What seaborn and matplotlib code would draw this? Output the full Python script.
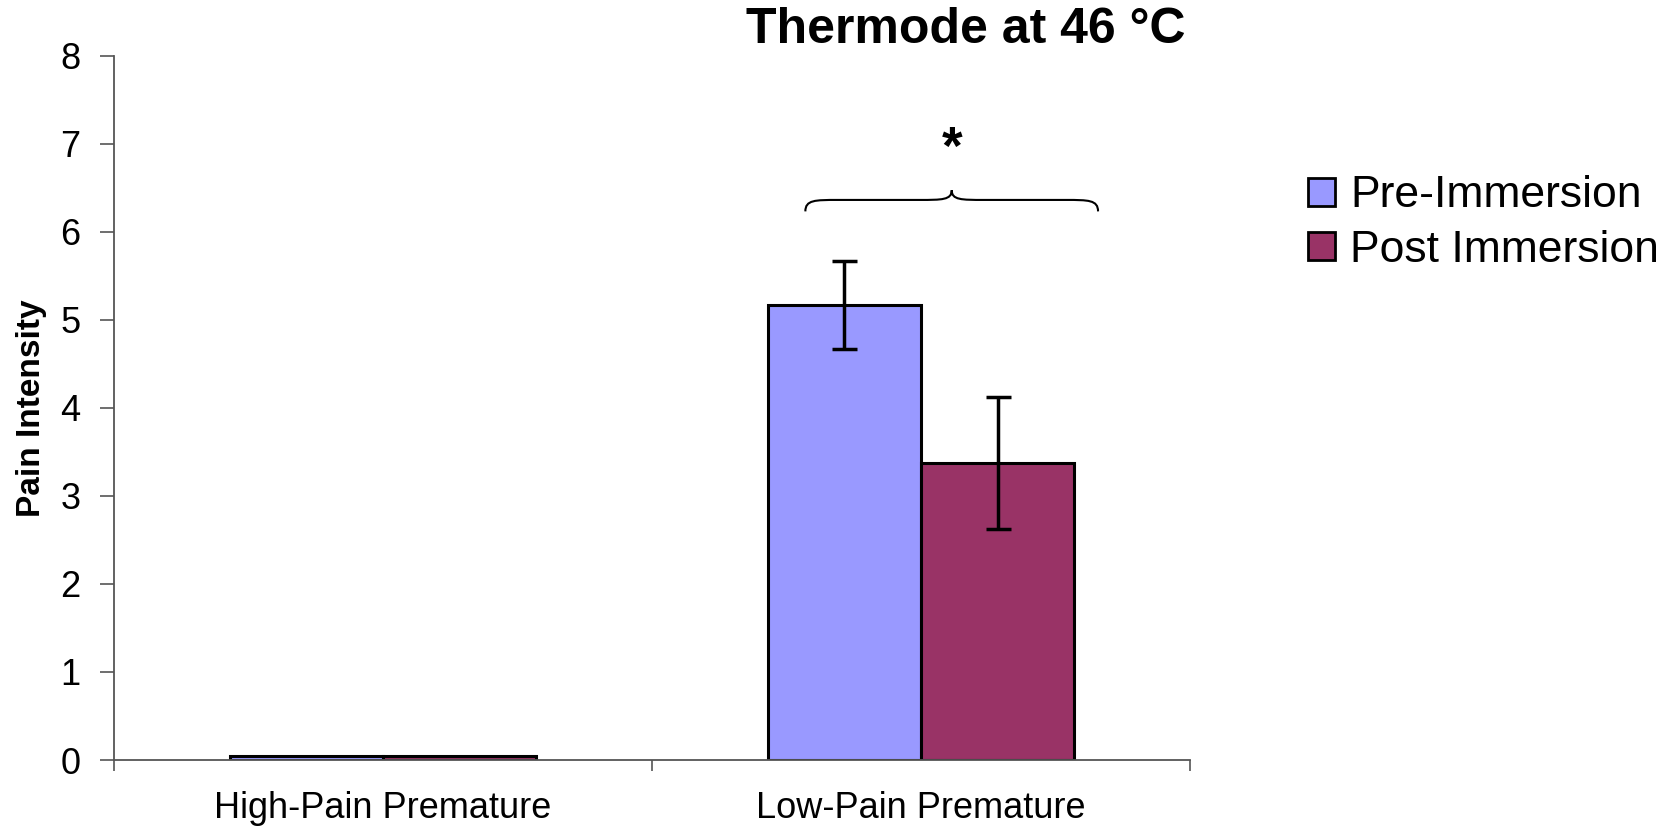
import matplotlib
matplotlib.use("Agg")
import matplotlib.pyplot as plt
from matplotlib.path import Path
from matplotlib.patches import PathPatch
import numpy as np
import pandas as pd
import seaborn as sns

# valeurs
groups = ["High-Pain Premature", "Low-Pain Premature"]
conditions = ["Pre-Immersion", "Post Immersion"]
pre_means = [0.05, 5.17]
post_means = [0.05, 3.37]
pre_err = [0.0, 0.50]
post_err = [0.0, 0.75]
colors = ["#9999FF", "#993366"]
yticks = [0, 1, 2, 3, 4, 5, 6, 7, 8]

df = pd.DataFrame({
    "group": groups * 2,
    "condition": [conditions[0]] * 2 + [conditions[1]] * 2,
    "value": pre_means + post_means,
    "err": pre_err + post_err,
})

sns.set_style("white")
plt.rcParams["font.family"] = ["Liberation Sans", "DejaVu Sans"]
plt.rcParams["text.color"] = "black"
plt.rcParams["xtick.color"] = "black"
plt.rcParams["ytick.color"] = "black"
plt.rcParams["axes.labelcolor"] = "black"

fig = plt.figure(figsize=(16.74, 8.31), dpi=100)
ax = fig.add_axes([0.0681, 0.0854, 0.6428, 0.8478])

sns.barplot(data=df, x="group", y="value", hue="condition", order=groups,
            hue_order=conditions, palette=colors, saturation=1, width=0.57,
            errorbar=None, edgecolor="black", linewidth=2.2, ax=ax)

# barres d'erreur sur les barres de seaborn
for cont, cond in zip(ax.containers, conditions):
    sub = df[df["condition"] == cond].set_index("group").loc[groups]
    for rect, v, e in zip(cont, sub["value"], sub["err"]):
        if e > 0:
            ax.errorbar(rect.get_x() + rect.get_width() / 2, v, yerr=e,
                        fmt="none", ecolor="black", elinewidth=2.5,
                        capsize=9, capthick=2.5)

ax.set_xlim(-0.5, 1.5)
ax.set_ylim(0, 8)
ax.set_yticks(yticks)
ax.set_xlabel("")
ax.set_ylabel("Pain Intensity", fontsize=24, fontweight="bold")
ax.yaxis.set_label_coords(-0.062, 0.5)
ax.tick_params(axis="y", labelsize=26, length=10, width=1.2, color="#555555",
               labelcolor="black", direction="out", pad=14, left=True)
ax.tick_params(axis="x", which="major", labelsize=26, length=0, pad=22,
               labelcolor="black")
ax.set_xticks([-0.5, 0.5, 1.5], minor=True)
ax.tick_params(axis="x", which="minor", length=8, width=1.2, color="#555555",
               direction="out", bottom=True)
for s in ["top", "right"]:
    ax.spines[s].set_visible(False)
for s in ["left", "bottom"]:
    ax.spines[s].set_color("#555555")
    ax.spines[s].set_linewidth(1.3)

# accolade + asterisque
x0, x1, xm = 0.785, 1.329, 1.057
yb, yf, yt = 6.23, 6.36, 6.47
dx = 0.06
verts = [
    (x0, yb), (x0, yf), (x0 + dx * 0.3, yf), (x0 + dx, yf),
    (xm - dx, yf), (xm - dx * 0.3, yf), (xm, yf), (xm, yt),
    (xm, yf), (xm + dx * 0.3, yf), (xm + dx, yf),
    (x1 - dx, yf), (x1 - dx * 0.3, yf), (x1, yf), (x1, yb),
]
codes = [Path.MOVETO, Path.CURVE4, Path.CURVE4, Path.CURVE4,
         Path.LINETO, Path.CURVE4, Path.CURVE4, Path.CURVE4,
         Path.CURVE4, Path.CURVE4, Path.CURVE4,
         Path.LINETO, Path.CURVE4, Path.CURVE4, Path.CURVE4]
ax.add_patch(PathPatch(Path(verts, codes), fill=False, lw=1.5,
                       edgecolor="black", clip_on=False))
ax.text(xm, 6.93, "*", ha="center", va="center", fontsize=38,
        fontweight="bold")

fig.text(0.577, 0.964, "Thermode at 46 °C", ha="center", va="center",
         fontsize=36, fontweight="bold")

leg = ax.legend(loc="upper left", bbox_to_anchor=(1.093, 0.855), frameon=False,
                fontsize=32, handlelength=0.6, handleheight=0.6,
                handletextpad=0.35, labelspacing=0.3, borderaxespad=0)
for h in leg.legend_handles:
    h.set_edgecolor("black")
    h.set_linewidth(2)

fig.savefig("out.png", dpi=100, facecolor="white")
